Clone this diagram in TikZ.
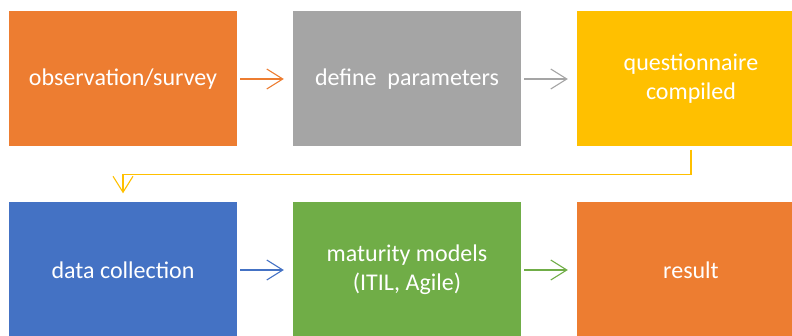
\documentclass[tikz,border=0pt]{standalone}
\usepackage{fontspec}
\setmainfont{Carlito}
\usetikzlibrary{arrows.meta,calc}
\definecolor{cOrange}{HTML}{ED7D31}
\definecolor{cGray}{HTML}{A5A5A5}
\definecolor{cGold}{HTML}{FFC000}
\definecolor{cBlue}{HTML}{4472C4}
\definecolor{cGreen}{HTML}{70AD47}
\begin{document}
\begin{tikzpicture}[x=1pt,y=-1pt,
  stagebox/.style={minimum width=228pt, minimum height=135pt, inner sep=0pt,
    text=white, align=center, font=\fontsize{24}{29}\selectfont},
  flow/.style={line width=1.1pt,
    -{Straight Barb[length=16pt,width=20pt,line width=1.1pt]},
    shorten <=3pt, shorten >=9pt}]
\useasboundingbox (0,0) rectangle (792,336);
\clip (0,0) rectangle (792,336);
% first row
\node[stagebox, fill=cOrange] (obs) at (123,79) {observation/survey};
\node[stagebox, fill=cGray]   (def) at (407,79) {define~~parameters};
\node[stagebox, fill=cGold]   (que) at (691,79) {questionnaire\\compiled};
% second row
\node[stagebox, fill=cBlue]   (dat) at (123,270) {data collection};
\node[stagebox, fill=cGreen]  (mat) at (407,270) {maturity models\\(ITIL, Agile)};
\node[stagebox, fill=cOrange] (res) at (691,270) {result};
% connectors
\draw[flow, cOrange] (obs) -- (def);
\draw[flow, cGray]   (def) -- (que);
\coordinate (bend) at ($(que.south)!0.5!(dat.north)$);
\draw[flow, cGold]   (que.south) |- (bend) -| (dat.north);
\draw[flow, cBlue]   (dat) -- (mat);
\draw[flow, cGreen]  (mat) -- (res);
\end{tikzpicture}
\end{document}
